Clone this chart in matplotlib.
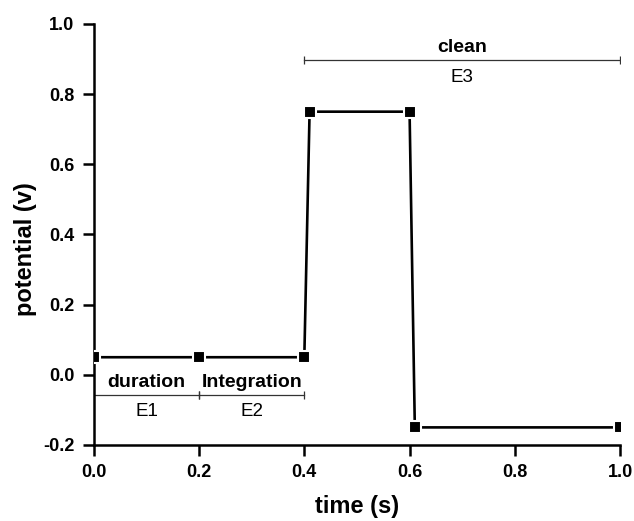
import numpy as np
import matplotlib
matplotlib.use("Agg")
import matplotlib.pyplot as plt

plt.rcParams['font.family'] = ['Liberation Sans', 'DejaVu Sans']

# step potential waveform
time_s = [0.0, 0.2, 0.4, 0.41, 0.6, 0.61, 1.0]
potential_v = [0.05, 0.05, 0.05, 0.75, 0.75, -0.15, -0.15]

# labelled time windows: (start, end, bracket level, title, name)
win_start = [0.0, 0.2, 0.4]
win_end = [0.2, 0.4, 1.0]
win_level = [-0.057, -0.057, 0.897]
win_title = ['duration', 'Integration', 'clean']
win_name = ['E1', 'E2', 'E3']

xticks = [0.0, 0.2, 0.4, 0.6, 0.8, 1.0]
yticks = [-0.2, 0.0, 0.2, 0.4, 0.6, 0.8, 1.0]

fig = plt.figure(figsize=(6.34, 5.21), dpi=100)
ax = fig.add_axes([0.148, 0.146, 0.830, 0.808])

ax.plot(time_s, potential_v, color='black', lw=1.9, marker='s', ms=8.5,
        mfc='black', mec='white', mew=1.5, zorder=3)

for s, e, lv, t, n in zip(win_start, win_end, win_level, win_title, win_name):
    ax.plot([s, e], [lv, lv], color='#333333', lw=0.9, zorder=2)
    caps = [c for c in (s, e) if c > 0]
    ax.plot(caps, [lv] * len(caps), ls='none', marker='|', ms=6,
            mew=0.9, color='#333333', zorder=2)
    mid = (s + e) / 2
    ax.text(mid, lv + 0.012, t, ha='center', va='bottom', fontsize=14,
            fontweight='bold')
    ax.text(mid, lv - 0.024, n, ha='center', va='top', fontsize=13.5)

ax.set_xlim(0, 1.0)
ax.set_ylim(-0.2, 1.0)
ax.set_xticks(xticks)
ax.set_yticks(yticks)
ax.set_xticklabels(['%.1f' % v for v in xticks], fontweight='bold')
ax.set_yticklabels(['%.1f' % v for v in yticks], fontweight='bold')
ax.tick_params(direction='out', length=8, width=1.8, labelsize=13, pad=6)
for side in ('top', 'right'):
    ax.spines[side].set_visible(False)
for side in ('left', 'bottom'):
    ax.spines[side].set_linewidth(1.8)

ax.set_xlabel('time (s)', fontsize=17, fontweight='bold')
ax.set_ylabel('potential (v)', fontsize=17, fontweight='bold')
ax.xaxis.set_label_coords(0.5, -0.12)
ax.yaxis.set_label_coords(-0.108, 0.464)

fig.savefig('out.png', dpi=100)
